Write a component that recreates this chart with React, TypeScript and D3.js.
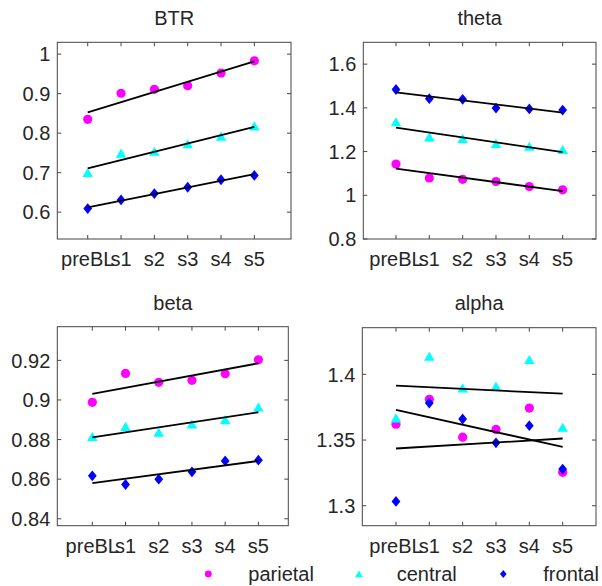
import React from 'react';
import * as d3 from 'd3';

// sessions along x
const sessions = ['preBL', 's1', 's2', 's3', 's4', 's5'];

// BTR
const btrParietal = [0.835, 0.901, 0.911, 0.92, 0.952, 0.983];
const btrCentral = [0.699, 0.748, 0.753, 0.772, 0.791, 0.817];
const btrFrontal = [0.609, 0.631, 0.647, 0.663, 0.682, 0.693];

// theta
const thetaParietal = [1.143, 1.079, 1.073, 1.063, 1.04, 1.025];
const thetaCentral = [1.334, 1.265, 1.258, 1.235, 1.222, 1.207];
const thetaFrontal = [1.484, 1.442, 1.439, 1.399, 1.395, 1.39];

// beta
const betaParietal = [0.8988, 0.9134, 0.9089, 0.9099, 0.9133, 0.9203];
const betaCentral = [0.8813, 0.8864, 0.8834, 0.8876, 0.8898, 0.8962];
const betaFrontal = [0.8617, 0.8573, 0.86, 0.8637, 0.8692, 0.8696];

// alpha
const alphaParietal = [1.3621, 1.381, 1.3522, 1.3581, 1.3743, 1.3254];
const alphaCentral = [1.3665, 1.4134, 1.3893, 1.3906, 1.4109, 1.3593];
const alphaFrontal = [1.3033, 1.3781, 1.366, 1.3479, 1.3609, 1.3279];

const regions = ['parietal', 'central', 'frontal'];
const regionColors = ['#ff00ff', '#00ffff', '#0000ff'];

const textColor = '#262626';
const axisColor = '#454545';
const font = '"Liberation Sans", Arial, sans-serif';

const panels = [
    {title: 'BTR', series: [btrParietal, btrCentral, btrFrontal],
        yDomain: [0.532, 1.03], yTicks: [0.6, 0.7, 0.8, 0.9, 1], xDomain: [0.087, 7.1],
        box: {left: 57.3, right: 291, top: 42.3, bottom: 239}, titleY: 25},
    {title: 'theta', series: [thetaParietal, thetaCentral, thetaFrontal],
        yDomain: [0.8, 1.7], yTicks: [0.8, 1, 1.2, 1.4, 1.6], xDomain: [0.02, 7],
        box: {left: 363.3, right: 596, top: 42.3, bottom: 239}, titleY: 25},
    {title: 'beta', series: [betaParietal, betaCentral, betaFrontal],
        yDomain: [0.8365, 0.937], yTicks: [0.84, 0.86, 0.88, 0.9, 0.92], xDomain: [-0.054, 6.9],
        box: {left: 57.3, right: 288.3, top: 326.7, bottom: 525.7}, titleY: 310},
    {title: 'alpha', series: [alphaParietal, alphaCentral, alphaFrontal],
        yDomain: [1.2848, 1.4355], yTicks: [1.3, 1.35, 1.4], xDomain: [-0.01, 7],
        box: {left: 362.3, right: 596, top: 327.7, bottom: 525.7}, titleY: 310},
]

// least squares line through (1..n, values)
const fitLine = (values) => {
    const xs = values.map((v, i) => i + 1)
    const mx = d3.mean(xs)
    const my = d3.mean(values)
    const num = d3.sum(xs, (x, i) => (x - mx) * (values[i] - my))
    const den = d3.sum(xs, x => (x - mx) * (x - mx))
    const slope = num / den
    const b = my - slope * mx
    return [[1, slope + b], [xs.length, slope * xs.length + b]]
}

const Marker = ({kind, x, y, color, scale = 1}) => {
    if (kind === 0) return <circle cx={x} cy={y} r={4.6 * scale} fill={color}/>
    if (kind === 1) {
        const p = d3.symbol(d3.symbolTriangle, 48 * scale * scale)()
        return <path d={p} transform={`translate(${x},${y + 1})`} fill={color}/>
    }
    // matlab-like diamond, a little taller than wide
    const w = 4.4 * scale, h = 5.4 * scale
    return <path d={`M${x},${y - h}L${x + w},${y}L${x},${y + h}L${x - w},${y}Z`} fill={color}/>
}

const Panel = ({panel}) => {
    const {box} = panel
    const xScale = d3.scaleLinear().domain(panel.xDomain).range([box.left, box.right])
    const yScale = d3.scaleLinear().domain(panel.yDomain).range([box.bottom, box.top])
    const line = d3.line().x(d => xScale(d[0])).y(d => yScale(d[1]))
    const tick = 4

    return (
        <g>
            <text x={(box.left + box.right) / 2} y={panel.titleY} textAnchor='middle'
                fontSize='20px' fill={textColor}>{panel.title}</text>
            <rect x={box.left} y={box.top} width={box.right - box.left} height={box.bottom - box.top}
                fill='white' stroke={axisColor} strokeWidth={1}/>
            {panel.yTicks.map(t => (
                <g key={'y' + t}>
                    <line x1={box.left} x2={box.left + tick} y1={yScale(t)} y2={yScale(t)} stroke={axisColor}/>
                    <line x1={box.right} x2={box.right - tick} y1={yScale(t)} y2={yScale(t)} stroke={axisColor}/>
                    <text x={box.left - 7} y={yScale(t)} dy='0.36em' textAnchor='end'
                        fontSize='20px' fill={textColor}>{String(t)}</text>
                </g>
            ))}
            {sessions.map((s, i) => (
                <g key={'x' + s}>
                    <line x1={xScale(i + 1)} x2={xScale(i + 1)} y1={box.bottom} y2={box.bottom - tick} stroke={axisColor}/>
                    <line x1={xScale(i + 1)} x2={xScale(i + 1)} y1={box.top} y2={box.top + tick} stroke={axisColor}/>
                    <text x={xScale(i + 1)} y={box.bottom + 27} textAnchor='middle'
                        fontSize='20px' fill={textColor}>{s}</text>
                </g>
            ))}
            {panel.series.map((values, k) => (
                <g key={'s' + k}>
                    {values.map((v, i) => (
                        <Marker key={i} kind={k} x={xScale(i + 1)} y={yScale(v)} color={regionColors[k]}/>
                    ))}
                </g>
            ))}
            {panel.series.map((values, k) => (
                <path key={'f' + k} d={line(fitLine(values))} fill='none' stroke='black' strokeWidth={1.8}/>
            ))}
        </g>
    )
}

// legend layout
const legendMarkerX = [208.3, 359, 503.3]
const legendTextX = [248.3, 396.7, 543.3]
const legendY = 574

const App = () => {
    return (
        <svg width={602} height={586} style={{position: 'absolute', left: 0, top: 0, fontFamily: font}}>
            <rect width={602} height={586} fill='white'/>
            {panels.map(p => <Panel key={p.title} panel={p}/>)}
            {regions.map((r, k) => (
                <g key={r}>
                    <Marker kind={k} x={legendMarkerX[k]} y={legendY} color={regionColors[k]} scale={0.75}/>
                    <text x={legendTextX[k]} y={legendY} dy='0.36em' fontSize='20px' fill={textColor}>{r}</text>
                </g>
            ))}
        </svg>
    )
}

export default App;
